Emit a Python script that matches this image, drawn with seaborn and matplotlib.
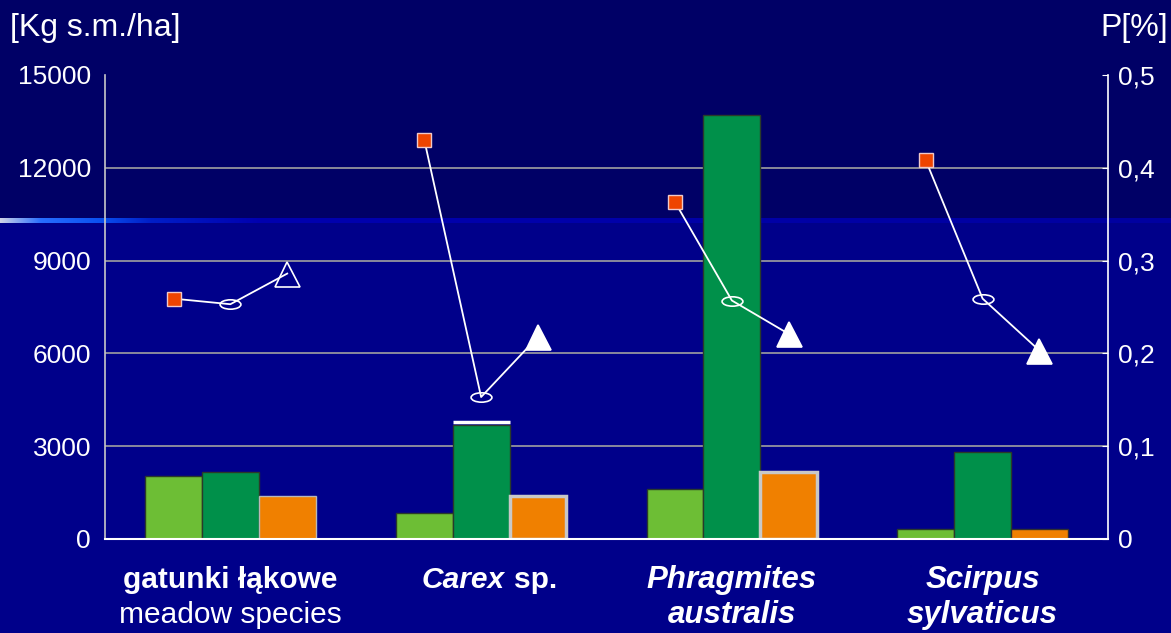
import numpy as np
import pandas as pd
import matplotlib
matplotlib.use("Agg")
import matplotlib.pyplot as plt
from matplotlib.patches import Rectangle
from matplotlib.path import Path
import seaborn as sns

# --- data -------------------------------------------------------------
categories = ["gatunki łąkowe", "Carex sp.", "Phragmites australis", "Scirpus sylvaticus"]
parts = ["a", "b", "c"]
biomass_a = [2050, 850, 1620, 330]      # light green bars [kg s.m./ha]
biomass_b = [2150, 3700, 13700, 2800]   # dark green bars
biomass_c = [1400, 1400, 2170, 330]     # orange bars
p_square = [0.259, 0.430, 0.363, 0.408]   # P [%]
p_ellipse = [0.253, 0.153, 0.257, 0.259]
p_triangle = [0.286, 0.218, 0.221, 0.203]
left_ticks = [0, 3000, 6000, 9000, 12000, 15000]
right_ticks = [0, 0.1, 0.2, 0.3, 0.4, 0.5]
right_ticklabels = ["0", "0,1", "0,2", "0,3", "0,4", "0,5"]

plt.rcParams["font.family"] = ["Liberation Sans", "DejaVu Sans"]

W, H = 1171, 633
fig = plt.figure(figsize=(W / 100, H / 100), dpi=100)

# --- slide background --------------------------------------------------
bg = fig.add_axes([0, 0, 1, 1], zorder=0)
bg.add_patch(Rectangle((0, 0), W, 220, color="#000066", lw=0, zorder=0))
bg.add_patch(Rectangle((0, 220), W, H - 220, color="#00008A", lw=0, zorder=0))
xs_g = np.linspace(0, W, 600)
stops = [0, 40, 100, 150, 260, W]
r = np.interp(xs_g, stops, [205, 40, 10, 0, 0, 0])
g = np.interp(xs_g, stops, [210, 110, 80, 30, 0, 0])
b = np.interp(xs_g, stops, [230, 255, 240, 200, 175, 160])
strip = np.stack([r, g, b], axis=-1)[None, :, :] / 255.0
bg.imshow(strip, extent=(0, W, 223, 218), aspect="auto",
          interpolation="bilinear", zorder=2)
bg.set_xlim(0, W)
bg.set_ylim(H, 0)
bg.axis("off")

# --- bars --------------------------------------------------------------
ax = fig.add_axes([105 / W, 1 - 539 / H, (1108 - 105) / W, (539 - 75) / H], zorder=1)
ax.patch.set_visible(False)

df = pd.DataFrame({
    "cat": categories * 3,
    "part": sum([[p] * 4 for p in parts], []),
    "val": biomass_a + biomass_b + biomass_c,
})
bar_colors = ["#6DBE35", "#00904A", "#F08000"]
sns.barplot(data=df, x="cat", y="val", hue="part", order=categories,
            hue_order=parts, palette=bar_colors, width=0.68, gap=0,
            saturation=1, errorbar=None, legend=False, ax=ax,
            edgecolor="#2A3A2A", linewidth=1)

# orange bar outlines
orange_edges = [("#B8B8B8", 1.0), ("#C8C8C8", 2.5), ("#C8C8C8", 2.5), ("#303030", 1.0)]
for patch, (ec, lw) in zip(ax.containers[2], orange_edges):
    patch.set_edgecolor(ec)
    patch.set_linewidth(lw)

# white rim on top of the Carex dark-green bar
rim = ax.containers[1][1]
ax.plot([rim.get_x(), rim.get_x() + rim.get_width()],
        [rim.get_height() + 80] * 2, color="white", lw=2.5,
        solid_capstyle="butt", zorder=3)

ax.set_xlim(-0.5, 3.5)
ax.set_ylim(0, 15000)
for level in left_ticks[1:-1]:
    ax.axhline(level, color="#A0A0A0", lw=1.2, zorder=0)

ax.set_yticks(left_ticks)
ax.set_yticklabels([str(t) for t in left_ticks])
ax.tick_params(axis="y", length=0, pad=10, labelsize=19, labelcolor="white")
ax.set_xticks(range(len(categories)))
ax.set_xticklabels([""] * len(categories))
ax.tick_params(axis="x", length=0)
ax.set_xlabel("")
ax.set_ylabel("")
for s in ["top", "right"]:
    ax.spines[s].set_visible(False)
ax.spines["left"].set_color("#C8C8C8")
ax.spines["left"].set_linewidth(1.2)
ax.spines["bottom"].set_color("white")
ax.spines["bottom"].set_linewidth(1.5)

# --- phosphorus lines (right axis) ------------------------------------
ax2 = ax.twinx()
ax2.set_ylim(0, 0.5)
ax2.set_yticks(right_ticks)
ax2.set_yticklabels(right_ticklabels)
ax2.tick_params(axis="y", direction="in", length=4, color="white", pad=7,
                labelsize=19, labelcolor="white")
for s in ["top", "left", "bottom"]:
    ax2.spines[s].set_visible(False)
ax2.spines["right"].set_color("white")
ax2.spines["right"].set_linewidth(1.2)

circ = Path.unit_circle()
ellipse_marker = Path(circ.vertices * np.array([1.0, 0.45]), circ.codes)

for i in range(len(categories)):
    xs = [c[i].get_x() + c[i].get_width() / 2 for c in ax.containers]
    ys = [p_square[i], p_ellipse[i], p_triangle[i]]
    ax2.plot(xs, ys, color="white", lw=1.3, zorder=2)
    ax2.plot(xs[0], ys[0], marker="s", ms=10, mfc="#EE4400", mec="#F0C8C8",
             mew=1, ls="none", zorder=3)
    ax2.plot(xs[1], ys[1], marker=ellipse_marker, ms=15, mfc="none",
             mec="white", mew=1.2, ls="none", zorder=3)
    ax2.plot(xs[2], ys[2], marker="^", ms=18,
             mfc="none" if i == 0 else "white", mec="white", mew=1.2,
             ls="none", zorder=3)

# --- category labels ---------------------------------------------------
tr = ax.get_xaxis_transform()
y1, y2 = -0.088, -0.163
fs = 21.5
ax.text(0, y1, "gatunki łąkowe", transform=tr, ha="center", va="center",
        fontsize=fs, fontweight="bold", color="white")
ax.text(0, y2, "meadow species", transform=tr, ha="center", va="center",
        fontsize=fs, color="white")
ax.annotate("Carex", xy=(1, y1), xycoords=tr, xytext=(17, 0),
            textcoords="offset points", ha="right", va="center", fontsize=fs,
            fontweight="bold", fontstyle="italic", color="white")
ax.annotate("sp.", xy=(1, y1), xycoords=tr, xytext=(24, 0),
            textcoords="offset points", ha="left", va="center", fontsize=fs,
            fontweight="bold", color="white")
for txt, yy in [("Phragmites", y1), ("australis", y2)]:
    ax.text(2, yy, txt, transform=tr, ha="center", va="center", fontsize=22.5,
            fontweight="bold", fontstyle="italic", color="white")
for txt, yy in [("Scirpus", y1), ("sylvaticus", y2)]:
    ax.text(3, yy, txt, transform=tr, ha="center", va="center", fontsize=22.5,
            fontweight="bold", fontstyle="italic", color="white")

# --- axis titles -------------------------------------------------------
fig.text(10 / W, 1 - 28 / H, "[Kg s.m./ha]", ha="left", va="center",
         fontsize=23, color="white")
fig.text(1168 / W, 1 - 28 / H, "P[%]", ha="right", va="center",
         fontsize=23, color="white")

fig.savefig("out.png", dpi=100)
